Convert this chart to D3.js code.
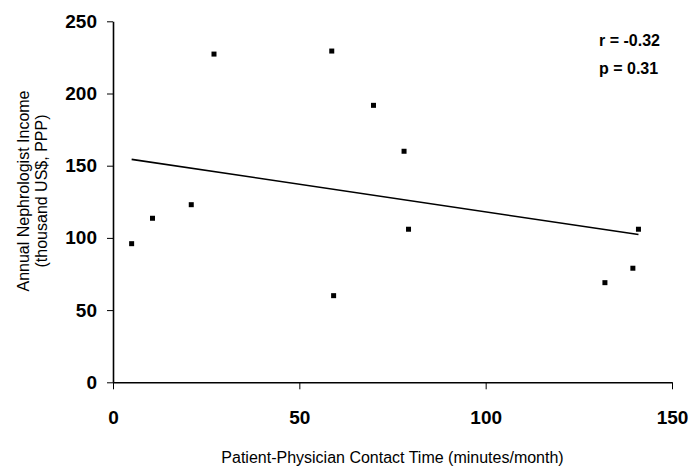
<!DOCTYPE html>
<html>
<head>
<meta charset="utf-8">
<script src="https://cdn.jsdelivr.net/npm/d3@7"></script>
<style>
  body { margin: 0; background: #fff; }
  svg { display: block; font-family: "Liberation Sans", Arial, sans-serif; }
  .axis path, .axis line { stroke: #000; }
  .axis text { font-weight: bold; font-size: 19px; fill: #000; }
</style>
</head>
<body>
<div id="chart"></div>
<script>
// contact time (minutes/month) vs annual income (thousand US$, PPP)
const contactTime = [5, 10.6, 21, 27.1, 58.7, 59.2, 69.9, 78.1, 79.3, 132, 139.5, 141];
const income = [96, 113.6, 123, 227.3, 229.4, 60, 191.8, 160, 106, 69, 79, 106];

// fitted line, end points
const trendX = [5, 141];
const trendY = [154.4, 102.3];

const xTicks = [0, 50, 100, 150];
const yTicks = [0, 50, 100, 150, 200, 250];

const statLines = ["r = -0.32", "p = 0.31"];

const WIDTH = 690;
const HEIGHT = 468;
const LEFT = 113, RIGHT = 672, TOP = 21.3, BOTTOM = 382.3;

const svg = d3.select("#chart")
    .append("svg")
    .attr("width", WIDTH)
    .attr("height", HEIGHT);

const x = d3.scaleLinear().domain([0, 150]).range([LEFT, RIGHT]);
const y = d3.scaleLinear().domain([0, 250]).range([BOTTOM, TOP]);

const xAxis = d3.axisBottom(x)
    .tickValues(xTicks)
    .tickSizeInner(7)
    .tickSizeOuter(0)
    .tickPadding(21);

const yAxis = d3.axisLeft(y)
    .tickValues(yTicks)
    .tickSizeInner(6)
    .tickSizeOuter(0)
    .tickPadding(10);

svg.append("g")
    .attr("class", "axis axis-x")
    .attr("transform", "translate(0," + BOTTOM + ")")
    .call(xAxis)
    .call(g => g.select(".domain").attr("stroke-width", 1.6))
    .call(g => g.selectAll(".tick line").attr("stroke", "#555"));

svg.append("g")
    .attr("class", "axis axis-y")
    .attr("transform", "translate(" + LEFT + ",0)")
    .call(yAxis)
    .call(g => g.select(".domain").attr("stroke-width", 1.6))
    .call(g => g.selectAll(".tick line").attr("stroke", "#555"));

// trend line
const line = d3.line()
    .x(d => x(d[0]))
    .y(d => y(d[1]));

svg.append("path")
    .datum(d3.zip(trendX, trendY))
    .attr("fill", "none")
    .attr("stroke", "#000")
    .attr("stroke-width", 1.6)
    .attr("d", line);

// points
const SQ = 5;
svg.append("g")
    .selectAll("rect")
    .data(d3.zip(contactTime, income))
    .join("rect")
    .attr("x", d => x(d[0]) - SQ / 2)
    .attr("y", d => y(d[1]) - SQ / 2)
    .attr("width", SQ)
    .attr("height", SQ)
    .attr("fill", "#000");

// stats
svg.append("g")
    .selectAll("text")
    .data(statLines)
    .join("text")
    .attr("x", 599)
    .attr("y", (d, i) => 46 + i * 28)
    .attr("font-size", "16px")
    .attr("font-weight", "bold")
    .text(d => d);

// axis titles
svg.append("text")
    .attr("x", (LEFT + RIGHT) / 2)
    .attr("y", 463)
    .attr("text-anchor", "middle")
    .attr("font-size", "16px")
    .text("Patient-Physician Contact Time (minutes/month)");

const yTitle = svg.append("text")
    .attr("transform", "translate(0," + 191 + ") rotate(-90)")
    .attr("text-anchor", "middle")
    .attr("font-size", "16px");
yTitle.append("tspan").attr("x", 0).attr("y", 29).text("Annual Nephrologist Income");
yTitle.append("tspan").attr("x", 0).attr("y", 47).text("(thousand US$, PPP)");
</script>
</body>
</html>
